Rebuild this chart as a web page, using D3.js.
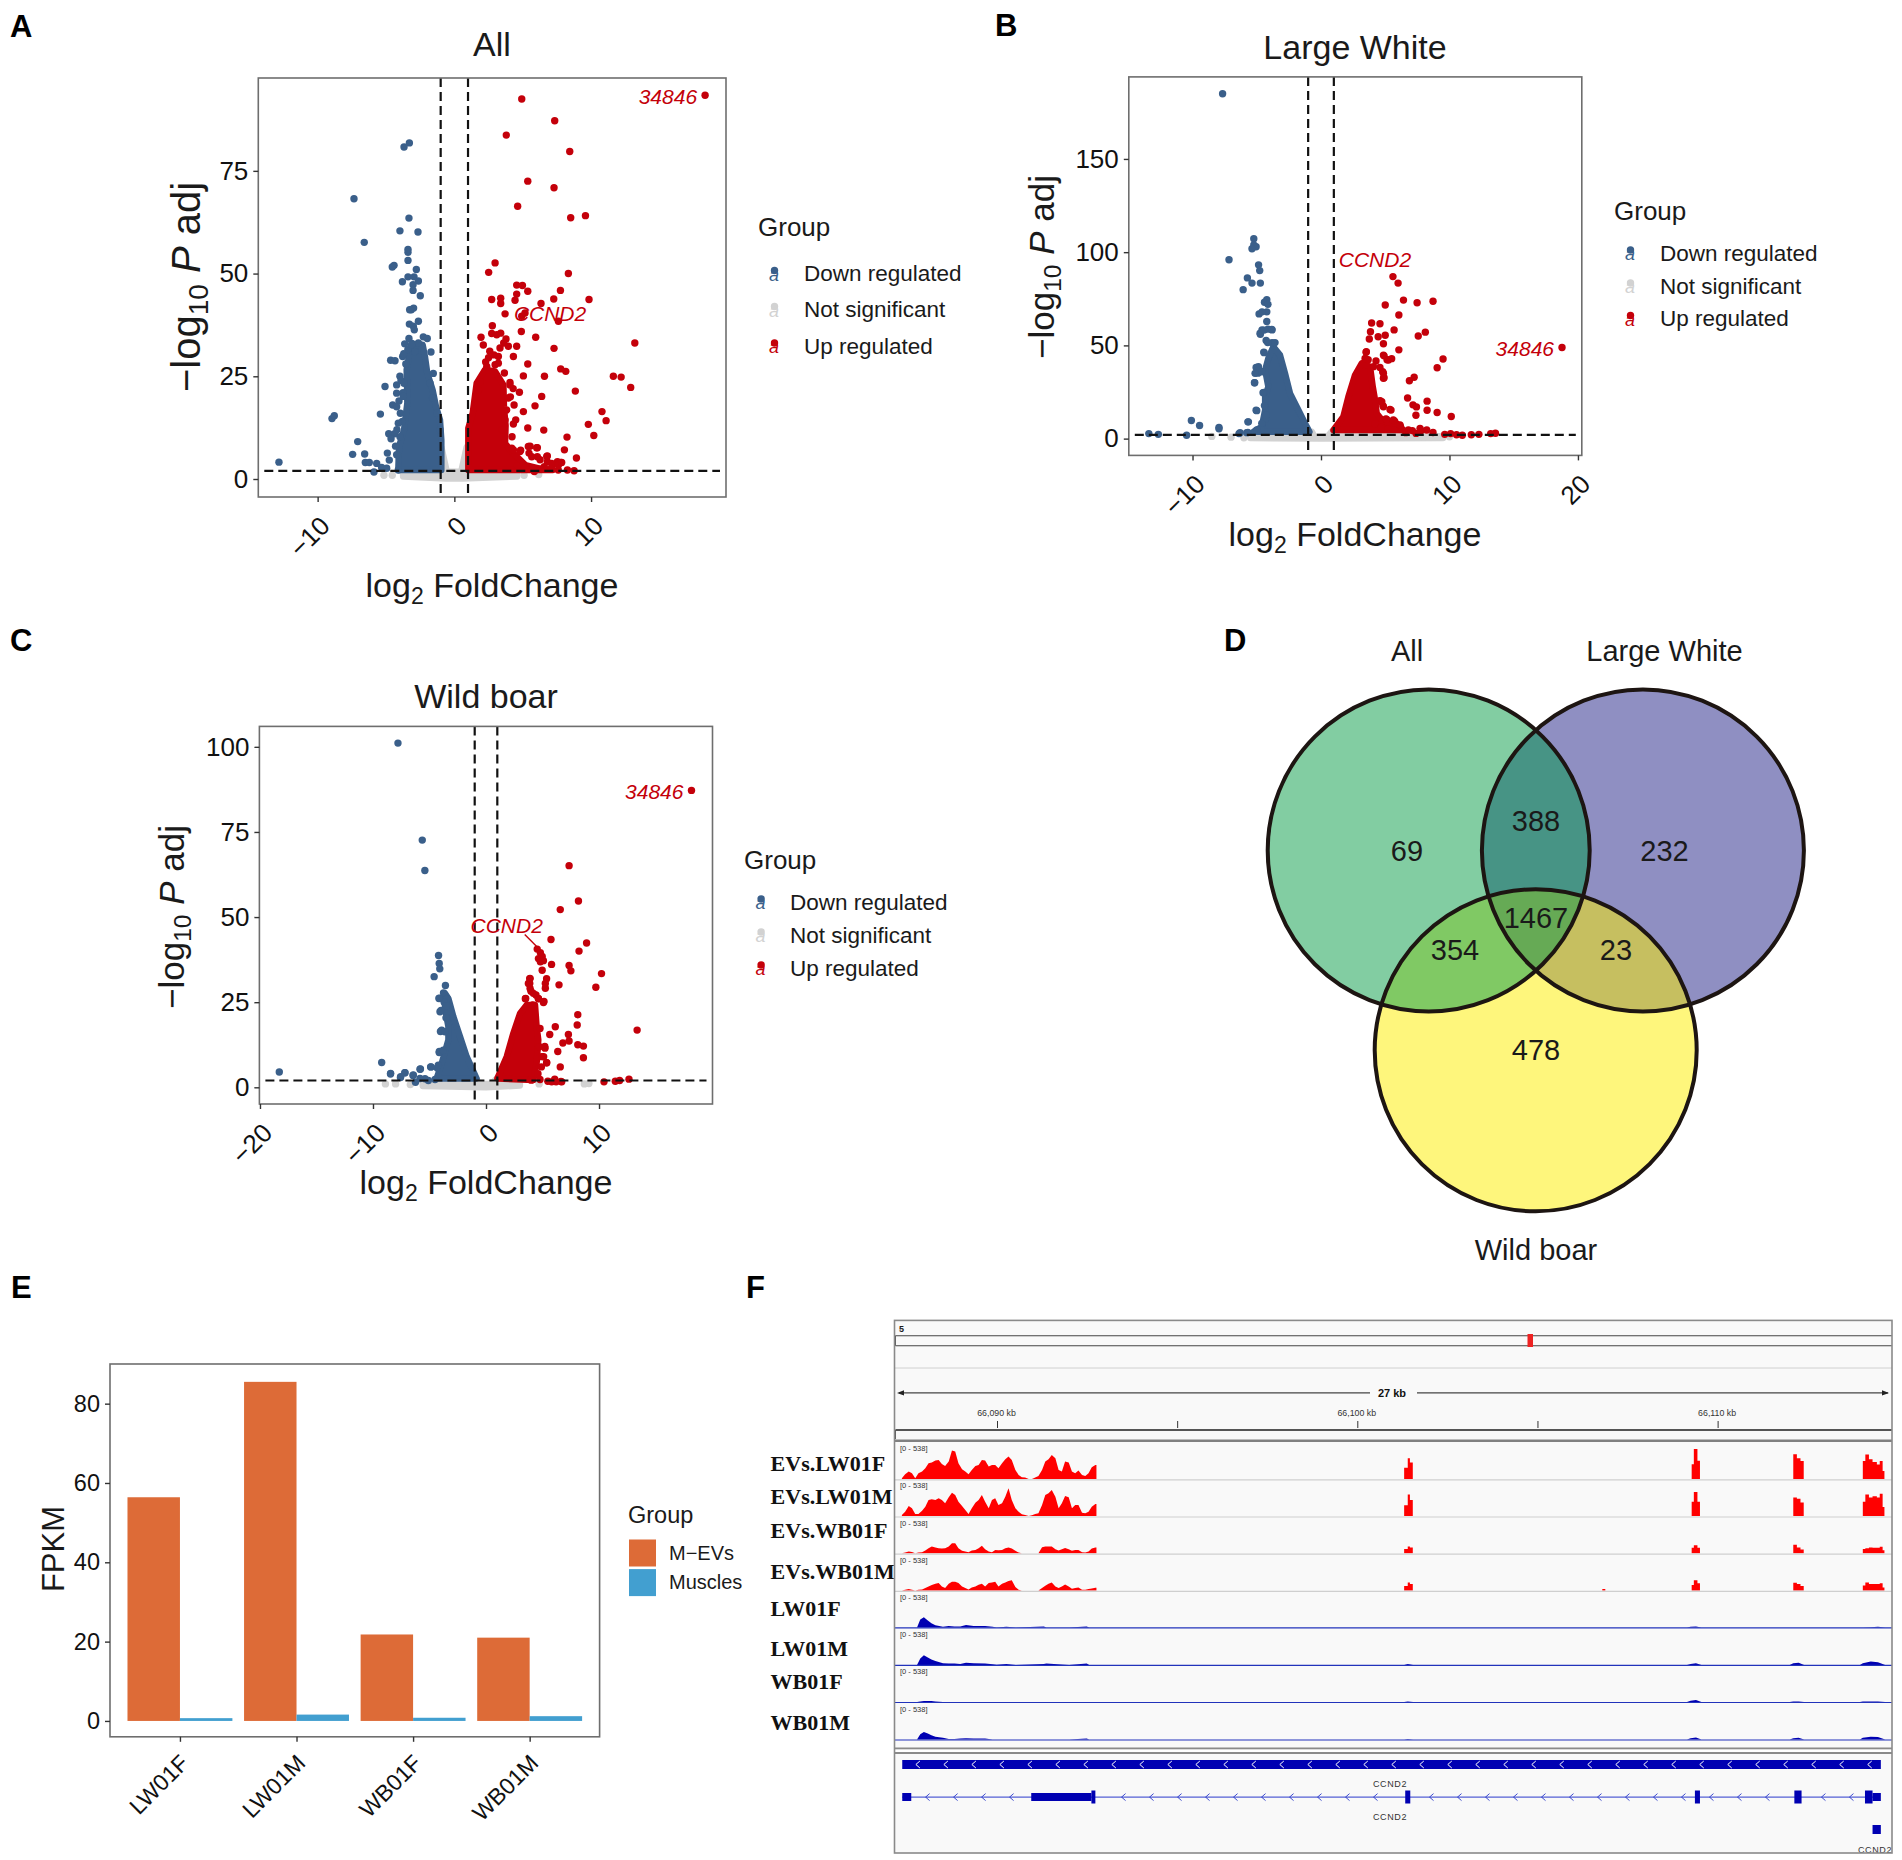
<!DOCTYPE html>
<html><head><meta charset="utf-8">
<script src="https://cdn.jsdelivr.net/npm/d3@7/dist/d3.min.js"></script>
<style>body{margin:0;background:#fff}svg{display:block}text{font-family:"Liberation Sans",Arial,sans-serif;fill:#1a1a1a}</style>
</head><body><svg id="c" width="1902" height="1860"></svg>
<script>
// ---------- Panel A (All) ----------
const allDown=[[-12.83,4.1],[-8.95,14.7],[-8.78,15.4],[-7.34,68.2],[-6.59,57.6],[-3.29,81.8],[-3.68,80.8],[-3.32,63.5],[-3.98,60.4],[-2.66,60.1],[-3.39,55.9],[-3.39,55.2],[-3.39,53.2],[-4.41,52],[-4.54,51.6],[-2.78,51],[-3.39,49.2],[-2.95,49.2],[-2.63,48.2],[-3.8,48],[-3.02,47.3],[-3.02,45.9],[-2.49,44.6],[-3.15,41.2],[-2.98,41.6],[-3.27,41.2],[-2.63,38.4],[-3.29,37.7],[-3,37.2],[-2.93,36.3],[-3.32,34.2],[-2.27,34.6],[-1.98,34.2],[-3.63,32.9],[-1.71,30.9],[-4.66,28.9],[-4.34,28.8],[-3.78,29.8],[-1.54,25.7],[-3.98,25],[-5.07,22.5],[-4.22,22.9],[-4.22,20.9],[-4.51,18],[-5.41,15.8],[-4.8,11],[-4.37,11],[-4.63,9.8],[-7.07,9.1],[-7.44,6],[-6.56,6.1],[-6.51,4],[-6.22,4],[-5.68,3.8],[-4.9,6.3],[-4.76,4.6],[-5.88,1.7],[-5.32,2.8],[-4.95,2.6],[-4.22,5.9],[-4.1,2.2],[-3.7,30.5],[-3.55,28],[-3.9,24],[-3.75,21],[-4.05,19],[-3.95,16],[-3.8,14],[-4.2,12],[-4.3,8],[-2.9,31],[-3.4,31.5],[-3.1,33],[-4.22,17.6],[-4.1,13.6],[-3.98,10.3],[-3.73,20.1],[-3.68,23.3],[-1.78,23.3],[-1.59,19.7],[-1.29,16],[-1.05,12],[-2.63,33.1],[-3.12,32.7]];
const allUp=[[18.34,93.4],[4.93,92.5],[7.34,87.2],[3.8,83.7],[8.44,79.7],[5.37,72.5],[7.29,70.9],[4.63,66.4],[8.51,63.6],[9.59,64.1],[2.98,52.6],[2.51,50.3],[8.34,50],[4.56,47.2],[4.98,47.1],[5.37,45.7],[7.76,45.9],[4.56,45],[4.44,43.5],[2.73,43.7],[3.39,44],[3.39,42.7],[6.34,42.7],[7.27,43.8],[9.85,43.7],[3.71,40.2],[4.93,39.6],[5.17,40.4],[7.61,38.4],[2.78,37.3],[2.73,35.4],[3.1,35.1],[3.39,35.5],[4.9,35.9],[5.95,34.5],[1.95,34.5],[3.78,34.1],[7.29,31.8],[13.2,33.1],[2.12,32.6],[3.61,33.1],[4.56,32.3],[2.59,31.1],[3.34,31.9],[3.95,32.3],[3.22,29.8],[4.32,29.8],[2.29,28.5],[3.22,28.2],[5.37,28],[7.78,26.8],[8.15,26.2],[3.66,25.8],[5.05,25.1],[6.59,25],[11.63,25],[12.2,24.8],[12.9,22.3],[4.07,23.5],[8.85,21.4],[4.76,21.1],[6.39,20.1],[4.37,18],[5.9,17.8],[5.05,16.4],[10.8,16.4],[11.1,14.2],[9.8,13.3],[4.49,14.4],[5.37,12.4],[6.54,11.9],[10.2,10.6],[8.24,10.2],[4.22,10.3],[5.54,8],[6.07,7.6],[8.05,7.1],[4.2,7.5],[4.85,7],[5.46,6.3],[6.07,5.4],[6.8,5.6],[7.54,4.2],[8.93,5.1],[6.8,4.2],[7.17,3.4],[7.78,4],[8.27,2.2],[8.76,2],[5.85,1.8],[6.58,3],[4.1,20],[4.3,22],[2.5,29.5],[2.9,30.2],[7.1,2.6],[7.6,2.2],[6.3,2.4],[5.2,2.8],[4.6,3.2],[4.32,7.1],[4.8,6.7],[5.41,7.9],[5.66,5.4],[6.02,7.6],[6.27,4.7],[6.76,5.5],[7.12,3.8],[7.61,3.4],[7.85,4],[1.88,23.7],[1.76,21.7],[4.07,22.9],[3.95,19.7],[3.83,16.8],[3.71,14.4],[3.51,12],[4.32,13.4],[2.37,27.4],[2.98,27.8]];
const allDownMass=[[-4.1,2.2],[-4.05,7.9],[-3.68,12],[-3.44,18.5],[-3.49,26.6],[-3.2,32.3],[-2.32,32.7],[-2.15,29.8],[-1.98,25.8],[-1.59,21.7],[-1.34,17.6],[-1.05,14.4],[-0.95,9.5],[-0.95,2.2]];
const allUpMass=[[1.02,2.2],[1.02,12.4],[1.34,16],[1.63,23.3],[2.24,26.6],[2.98,26.2],[3.59,22.9],[3.63,17.6],[3.75,13],[3.71,8.7],[4.1,7],[5.2,3.4],[6.4,2.4],[7.2,2.2]];
const allGreyMass=[[-3.75,1.5],[-1.05,1.5],[-0.95,7.8],[-0.55,1.8],[0.5,1.8],[0.9,7.8],[1,1.5],[4.6,1.5],[4.6,0.6],[0.6,0.1],[-0.6,0.1],[-3.75,0.6]];
const allGrey=[[-5.15,0.9],[-4.54,0.9],[5.1,0.9],[6.17,1.1]];
// ---------- Panel B (Large White) ----------
const lwDown=[[-7.66,185],[-13.4,2.7],[-12.66,2.3],[-10.46,1.8],[-10.09,9.7],[-9.45,7],[-7.94,6],[-7.94,5.3],[-7.16,95.9],[-5.23,107.2],[-5.23,103.9],[-5.05,102.9],[-5.37,101.8],[-4.86,93.2],[-4.77,90.1],[-5.73,86.2],[-5.37,83.4],[-4.72,83.4],[-6.06,79.9],[-4.22,74.5],[-4.4,73.1],[-4.13,72],[-4.22,68],[-4.82,66.9],[-4.59,68],[-4.22,62.8],[-4.13,58.7],[-4.59,58.3],[-3.81,58.3],[-4.72,56],[-4.27,52.6],[-3.81,51.5],[-4.45,46.4],[-4.72,36.1],[-4.91,35.1],[-5.05,38.2],[-5.18,30],[-4.45,24.8],[-5.05,15.2],[-5.69,9],[-4.31,10.5],[-6.38,2.7],[-5.69,3.3],[-4.4,17.7],[-4.87,38.6],[-5.13,35],[-4.61,35.9],[-5.16,30],[-4.51,24.6],[-5,15],[-5.65,9],[-4.43,46.1],[-4.15,51.5],[-3.58,51.5],[-4.74,56.5],[-4.43,58.2],[-3.83,58.6],[-4.28,12.6],[-4.61,8.2],[-5,4.6],[-6.3,3.2],[-5.78,3.2]];
const lwUp=[[18.76,48.9],[5.6,86.9],[6,83.4],[6.42,74.3],[7.48,72.9],[8.72,73.7],[5,71.7],[6.06,66.3],[3.94,62],[4.59,61.6],[3.85,57.3],[5.69,58.3],[8.12,57.1],[7.57,55],[3.76,53.4],[4.45,54.6],[5,55.4],[4.86,50.9],[6.06,47.6],[3.53,46.6],[9.5,42.7],[4.91,44.4],[5.5,42.9],[5.14,42.3],[3.67,42.3],[9.04,38],[4.59,38.2],[7.25,32.9],[6.88,31],[4.86,35.1],[4.86,32.4],[6.74,21.8],[7.16,18.1],[7.43,17],[8.26,20.1],[8.26,15.2],[9.04,14],[7.39,12.5],[10.14,11.9],[4.59,20.1],[4.82,17.7],[5.37,15.6],[5.05,10.5],[5.73,9.4],[6.19,6.4],[7.11,4.3],[7.8,4.3],[8.72,3.3],[10.09,2.7],[11,1.8],[12.29,2.3],[13.21,2.7],[13.58,2.9],[11.7,2.1],[9.63,2.3],[10.55,2.1],[4.2,8],[4.7,6],[5.2,5],[6.6,3.2],[7.4,2.8],[3.51,46.3],[3.43,43],[4.08,38.6],[4.28,41.6],[4.86,44.8],[5.25,42.2],[4.8,35.9],[4.91,32.7],[4.6,20.3],[4.86,17.1],[4.73,19.8],[5.45,15.3],[5.11,10.3],[5.63,10],[6.15,7.3],[7.71,5.5],[6.8,4.6],[8.23,4.6]];
const lwDownMass=[[-5.26,3.7],[-4.61,6.4],[-4.35,15.3],[-4.35,22.5],[-4.1,27.9],[-4.35,36.8],[-4.1,43.1],[-3.71,49.3],[-3.19,44.8],[-2.8,35],[-2.41,24.3],[-1.89,17.1],[-1.24,8.2],[-0.9,3.7]];
const lwUpMass=[[0.96,4.6],[1.74,11.8],[2.13,22.5],[2.65,34.1],[3.17,40.4],[3.82,38.6],[4.03,27.9],[4.21,20.7],[4.34,13.5],[4.86,9.1],[5.89,8.2],[6.41,4.6]];
const lwGreyMass=[[-5.5,1.8],[-1.2,1.8],[-0.7,3.6],[-0.5,1],[0.5,1],[0.8,3.6],[1.2,1.8],[9.5,1],[9.5,0.3],[0,0],[-5.5,0.3]];
const lwGrey=[[-8.5,1.2],[-7,0.8],[-6,0.5],[8,1],[9.2,1],[10,1]];
// ---------- Panel C (Wild boar) ----------
const wbDown=[[-7.79,101.1],[-5.64,72.6],[-5.41,63.7],[-18.29,4.5],[-9.23,7.3],[-8.45,3.9],[-7.57,2.9],[-7.18,4.3],[-6.46,3.5],[-5.8,5.4],[-4.86,6],[-6.24,1.5],[-4.2,38.7],[-4.14,36.4],[-4.09,34.8],[-4.59,32.5],[-3.59,29.9],[-3.76,27.7],[-4.14,26.2],[-3.43,26],[-3.98,22.6],[-3.54,20.4],[-4.03,16.4],[-4.14,10.2],[-4.31,5.7],[-5.4,2.5],[-5.1,2],[-3.7,25],[-3.5,24],[-4.16,26.1],[-4.07,22.2],[-3.92,16.8],[-3.63,16.3],[-4.13,10.5],[-3.78,10.9],[-4.9,6],[-4.22,6.5],[-5.84,5.3],[-6.43,3.6],[-7.17,4.3],[-7.55,3.1],[-8.44,4.1],[-5.84,2.6],[-4.51,2.3]];
const wbUp=[[18.18,87.2],[7.35,65.1],[8.18,54.7],[6.57,52.2],[8.9,42.4],[5.75,43.4],[8.23,40],[4.53,40.6],[4.81,39.5],[4.97,38.4],[4.64,37.8],[5.08,37.2],[5.8,36.1],[4.81,36.9],[7.35,35.8],[7.51,34.2],[10.22,33.4],[4.97,34.4],[3.87,31.9],[5.36,31.9],[3.87,30.5],[5.25,30.5],[6.46,30.1],[9.72,29.4],[5.25,29.1],[3.98,28.2],[4.42,27.1],[4.64,26],[3.48,26],[5.08,24.9],[8.12,21.3],[6.13,17.8],[8.07,18.3],[13.37,16.8],[5.64,15.5],[7.29,15.5],[6.8,13],[7.35,13.6],[8.12,12.5],[8.62,12.1],[6.35,10.5],[8.62,8.7],[5.36,7.2],[6.57,6],[3.98,2.4],[5.47,1.8],[6.08,1.8],[6.08,2.4],[6.63,1.7],[10.44,1.6],[11.44,1.8],[11.82,2],[12.65,2.4],[5.2,12],[5.1,9],[4.9,6],[4.6,4],[4.78,17.3],[4.72,11.9],[5.22,11.5],[4.93,9],[5.37,7.2],[4,2.1],[4.78,2.3],[5.81,1.6],[6.2,1.6],[6.7,1.6],[5.13,25.2],[4.63,26.1],[4.19,27.6],[3.9,29],[3.51,26.1],[3.75,30.5],[3.9,32],[4.13,24.2]];
const wbDownMass=[[-4.37,2.6],[-3.92,7],[-3.33,13.9],[-3.33,17.8],[-3.63,23.2],[-3.63,27.6],[-3.33,26.1],[-2.89,20.8],[-2.3,14.9],[-1.71,9],[-0.83,2.6]];
const wbUpMass=[[1,2.6],[1.83,9],[2.42,15.9],[3.01,21.7],[3.6,24.2],[4.34,24.2],[4.48,17.8],[4.63,13.9],[4.48,7],[4.19,2.1]];
const wbGreyMass=[[-5.6,1.5],[-1.2,1.5],[-1,2.5],[-0.5,1],[0.5,1],[1,2.8],[1.2,1.5],[3,1.5],[3,0.5],[0,0],[-5.6,0.4]];
const wbGrey=[[-8.9,1],[-8,1],[-6.7,0.8],[4.7,1],[8.7,1],[9.1,1.1]];
const legendGroups=["Down regulated","Not significant","Up regulated"];
// ---------- Panel D (Venn) ----------
const vennSets=["All","Large White","Wild boar"];
const vennCounts={onlyAll:69,allLw:388,onlyLw:232,allLwWb:1467,allWb:354,lwWb:23,onlyWb:478};
// ---------- Panel E (bars) ----------
const barSamples=["LW01F","LW01M","WB01F","WB01M"];
const barGroups=["M−EVs","Muscles"];
const mEvsFpkm=[56.4,85.5,21.8,21.0];
const musclesFpkm=[0.7,1.6,0.8,1.2];
// ---------- Panel F (genome tracks) ----------
const trackNames=["EVs.LW01F","EVs.LW01M","EVs.WB01F","EVs.WB01M","LW01F","LW01M","WB01F","WB01M"];
const geneKb=[66087.36,66087.45,66087.55,66087.64,66087.73,66087.82,66087.92,66088.01,66088.10,66088.19,66088.29,66088.38,66088.47,66088.56,66088.66,66088.75,66088.84,66088.93,66089.03,66089.12,66089.21,66089.30,66089.40,66089.49,66089.58,66089.67,66089.77,66089.86,66089.95,66090.04,66090.14,66090.23,66090.32,66090.41,66090.51,66090.60,66090.69,66090.78,66090.88,66090.97,66091.06,66091.15,66091.25,66091.34,66091.43,66091.52,66091.62,66091.71,66091.80,66091.89,66091.99,66092.08,66092.17,66092.26,66092.36,66092.45,66092.54,66092.63,66092.73,66092.76];
const evsLW01Fcov=[10,67,106,82,10,82,106,154,227,236,265,275,217,188,251,410,395,227,140,106,67,130,188,202,275,265,178,202,202,154,227,284,323,275,130,58,24,19,0,0,19,43,130,251,284,347,299,130,106,251,236,106,82,120,58,43,82,169,202,202];
const evsLW01Mcov=[14,63,145,111,29,29,77,135,231,241,231,255,231,183,270,337,304,207,145,87,29,111,193,231,304,207,111,231,255,159,183,280,400,231,111,63,24,14,0,10,29,39,159,304,328,376,280,111,183,289,270,111,159,159,48,39,63,135,174,174];
const evsWB01Fcov=[0,10,24,19,0,10,14,39,72,96,82,72,67,72,96,145,145,72,34,24,14,39,48,72,106,58,24,14,48,43,48,72,82,67,34,10,0,0,0,0,0,0,87,96,96,96,58,39,58,77,58,34,48,48,14,10,24,67,82,82];
const evsWB01Mcov=[0,10,19,10,0,10,14,34,58,77,96,106,58,34,96,125,125,106,58,34,14,43,58,82,96,58,106,116,125,58,96,116,135,145,48,10,0,0,0,0,0,0,34,67,96,116,58,34,58,87,58,24,34,43,10,10,19,29,39,39];
const exonKb=[[66101.30,66101.40,66101.46,66101.54],[66109.28,66109.34,66109.44,66109.51],[66112.10,66112.20,66112.30,66112.39],[66114.03,66114.10,66114.20,66114.30,66114.42,66114.50,66114.58,66114.63]];
const evsLW01Fexon=[[160,300,238,0],[212,434,264,0],[357,300,258,0],[258,352,284,243,207,258,114,0]];
const evsLW01Mexon=[[155,310,233,0],[207,346,207,0],[269,248,196,0],[207,310,269,284,269,321,129,0]];
const evsWB01Fexon=[[62,98,82,0],[78,114,78,0],[124,83,52,0],[62,72,83,78,78,93,41,0]];
const evsWB01Mexon=[[62,114,93,0],[78,145,103,0],[109,93,62,0],[72,114,93,93,93,103,41,0]];
const muscleKb=[66087.78,66087.87,66087.97,66088.08,66088.18,66088.29,66088.5,66088.66,66088.82,66088.98,66089.14,66089.35,66089.67,66089.88,66089.99,66090.26,66090.52,66091.3,66091.37,66092,66092.49,66092.56,66101.3,66101.4,66101.55,66109.15,66109.25,66109.4,66109.55,66112,66112.1,66112.25,66112.4,66113.95,66114.03,66114.25,66114.45,66114.65];
const lw01Fcov=[0,114,150,103,62,31,10,21,16,16,36,21,21,10,0,10,0,16,0,0,16,0,0,0,0,0,10,16,0,0,0,0,0,0,0,5,10,0];
const lw01Mcov=[0,93,140,109,78,57,26,21,21,16,31,26,21,10,5,16,0,16,21,0,21,0,0,16,0,0,16,26,0,0,26,31,0,0,26,52,41,0];
const wb01Fcov=[0,10,16,16,16,10,0,0,0,0,0,0,0,0,0,0,0,0,0,0,0,0,0,10,0,0,21,31,0,0,10,10,0,0,10,10,10,0];
const wb01Mcov=[0,78,109,88,62,41,26,10,10,16,21,16,16,0,0,0,0,0,0,0,16,0,0,10,0,0,21,31,0,0,21,26,0,0,26,41,36,0];
const geneUtr=[[66087.37,66087.62],[66090.95,66092.62],[66114.30,66114.53]];
const geneCds=[[66092.62,66092.73],[66101.33,66101.47],[66109.37,66109.51],[66112.13,66112.33],[66114.09,66114.30]];
const kbLabelled=[66090,66100,66110];
const kbPlain=[66095,66105];

const svg=d3.select("#c");
const BLUE="#3a5f8a",GREY="#d2d2d2",RED="#c4000a",FRAME="#6e6e6e";

function letter(t,x,y){svg.append("text").attr("x",x).attr("y",y).attr("font-size",31).attr("font-weight","bold").style("fill","#000").text(t);}
[["A",10,37],["B",995,36],["C",10,651],["D",1224,651],["E",11,1298],["F",746,1298]].forEach(d=>letter(...d));

function frame(g,b){g.append("rect").attr("x",b.l).attr("y",b.t).attr("width",b.r-b.l).attr("height",b.b-b.t).attr("fill","none").attr("stroke",FRAME).attr("stroke-width",1.6);}

function styleAxis(sel,fs){sel.select(".domain").remove();sel.selectAll("line").attr("stroke","#333").attr("stroke-width",1.4);sel.selectAll("text").attr("font-size",fs).style("fill","#111");}

function rotated(sel,dx,dy){sel.selectAll("text").attr("x",0).attr("y",0).attr("dy",".35em").attr("text-anchor","end").attr("transform",`translate(${dx},${dy}) rotate(-45)`);}

function volcano(o){
  const g=svg.append("g"),b=o.box;
  const x=d3.scaleLinear(o.xd,[b.l,b.r]),y=d3.scaleLinear(o.yd,[b.b,b.t]);
  const mass=d3.line().x(d=>x(d[0])).y(d=>y(d[1])).curve(d3.curveLinearClosed);
  const drawMass=(m,c)=>g.append("path").attr("d",mass(m)).attr("fill",c).attr("stroke",c).attr("stroke-width",6.4).attr("stroke-linejoin","round");
  const drawPts=(p,c)=>g.selectAll(null).data(p).join("circle").attr("cx",d=>x(d[0])).attr("cy",d=>y(d[1])).attr("r",3.7).attr("fill",c);
  drawMass(o.greyMass,GREY);drawPts(o.grey,GREY);
  drawMass(o.downMass,BLUE);drawPts(o.down,BLUE);
  drawMass(o.upMass,RED);drawPts(o.up,RED);
  [-1,1].forEach(v=>g.append("line").attr("x1",x(v)).attr("x2",x(v)).attr("y1",b.t).attr("y2",b.b).attr("stroke","#111").attr("stroke-width",2.2).attr("stroke-dasharray","9 5"));
  g.append("line").attr("x1",b.l+6).attr("x2",b.r-6).attr("y1",y(2)).attr("y2",y(2)).attr("stroke","#111").attr("stroke-width",2.2).attr("stroke-dasharray","9 5");
  frame(g,b);
  const ax=g.append("g").attr("transform",`translate(0,${b.b})`).call(d3.axisBottom(x).tickValues(o.xt).tickSize(5).tickFormat(d=>d<0?"−"+(-d):d));
  styleAxis(ax,26);rotated(ax,7,24);
  const ay=g.append("g").attr("transform",`translate(${b.l},0)`).call(d3.axisLeft(y).tickValues(o.yt).tickSize(5).tickPadding(5));
  styleAxis(ay,26);
  g.append("text").attr("x",o.title[1]).attr("y",o.title[2]).attr("text-anchor","middle").attr("font-size",34).attr("dominant-baseline","central").text(o.title[0]);
  const xl=g.append("text").attr("x",o.xl[0]).attr("y",o.xl[1]).attr("text-anchor","middle").attr("font-size",34);
  xl.append("tspan").text("log");xl.append("tspan").attr("font-size",23).attr("dy",7).text("2");xl.append("tspan").attr("dy",-7).text(" FoldChange");
  const yl=g.append("text").attr("transform",`translate(${o.yl[0]},${o.yl[1]}) rotate(-90)`).attr("text-anchor","middle").attr("font-size",o.yl[2]);
  yl.append("tspan").text("−log");yl.append("tspan").attr("font-size",o.yl[2]*.7).attr("dy",o.yl[2]*.2).text("10");yl.append("tspan").attr("dy",-o.yl[2]*.2).text(" ");yl.append("tspan").attr("font-style","italic").text("P");yl.append("tspan").text(" adj");
  const lab=(t,dx,dy,anc)=>g.append("text").attr("x",dx).attr("y",dy).attr("text-anchor",anc).attr("font-size",21).attr("font-style","italic").style("fill",RED).text(t);
  lab("34846",x(o.l1[0])-8,y(o.l1[1])+8.5,"end");
  lab("CCND2",x(o.l2[0]),y(o.l2[1]),"middle");
  if(o.leader)g.append("line").attr("x1",x(o.leader[0])).attr("y1",y(o.leader[1])).attr("x2",x(o.leader[2])).attr("y2",y(o.leader[3])).attr("stroke",RED).attr("stroke-width",1.4);
  const L=o.legend;
  g.append("text").attr("x",L.x).attr("y",L.gy).attr("font-size",26).attr("dominant-baseline","central").text("Group");
  legendGroups.forEach((t,i)=>{
    const c=[BLUE,GREY,RED][i],yy=L.ys[i];
    g.append("circle").attr("cx",L.kx+.5).attr("cy",yy-3).attr("r",3.7).attr("fill",c);
    g.append("text").attr("x",L.kx).attr("y",yy+7).attr("text-anchor","middle").attr("font-size",18).attr("font-style","italic").style("fill",c).text("a");
    g.append("text").attr("x",L.tx).attr("y",yy).attr("font-size",22.5).attr("dominant-baseline","central").text(t);
  });
}
volcano({box:{l:258.3,r:726,t:78,b:497},xd:[-14.34,19.87],yd:[-4.38,97.6],xt:[-10,0,10],yt:[0,25,50,75],down:allDown,up:allUp,downMass:allDownMass,upMass:allUpMass,greyMass:allGreyMass,grey:allGrey,title:["All",492,44],xl:[492,597],yl:[200,287,40],l1:[18.34,93.4],l2:[7,38.5],legend:{x:758,gy:227,kx:774,tx:804,ys:[273.5,309.5,346]}});
volcano({box:{l:1128.8,r:1581.8,t:76.9,b:455.4},xd:[-14.96,20.3],yd:[-9,194],xt:[-10,0,10,20],yt:[0,50,100,150],down:lwDown,up:lwUp,downMass:lwDownMass,upMass:lwUpMass,greyMass:lwGreyMass,grey:lwGrey,title:["Large White",1355,47],xl:[1355,546],yl:[1053.5,267,35],l1:[18.76,48.9],l2:[4.2,92],legend:{x:1614,gy:211,kx:1630,tx:1660,ys:[253,286,318.5]}});
volcano({box:{l:259.4,r:712.5,t:726.4,b:1104},xd:[-20.05,20.04],yd:[-4.9,106],xt:[-20,-10,0,10],yt:[0,25,50,75,100],down:wbDown,up:wbUp,downMass:wbDownMass,upMass:wbUpMass,greyMass:wbGreyMass,grey:wbGrey,title:["Wild boar",486,696],xl:[486,1194],yl:[184,917,35],l1:[18.18,87.2],l2:[1.83,45.3],leader:[3.43,44.9,4.53,41.2],legend:{x:744,gy:860,kx:760.6,tx:790,ys:[902,935,968]}});

// ---------- Venn ----------
(function(){
  const R=161,cA=[1428.7,850.4],cB=[1642.9,850.4],cC=[1535.7,1050.3];
  const g=svg.append("g"),defs=svg.append("defs");
  [["clipA",cA],["clipB",cB],["clipC",cC]].forEach(([id,c])=>defs.append("clipPath").attr("id",id).append("circle").attr("cx",c[0]).attr("cy",c[1]).attr("r",R));
  defs.append("clipPath").attr("id","clipAB").attr("clip-path","url(#clipA)").append("circle").attr("cx",cB[0]).attr("cy",cB[1]).attr("r",R);
  const circ=(c,f,clip)=>{const e=g.append("circle").attr("cx",c[0]).attr("cy",c[1]).attr("r",R).attr("fill",f);if(clip)e.attr("clip-path",`url(#${clip})`);return e;};
  circ(cA,"#82cda2");circ(cB,"#8f8fc2");circ(cC,"#fef67c");
  circ(cB,"#479485","clipA");
  circ(cC,"#80c964","clipA");
  circ(cC,"#c6bf60","clipB");
  circ(cC,"#66aa55","clipAB");
  [cA,cB,cC].forEach(c=>g.append("circle").attr("cx",c[0]).attr("cy",c[1]).attr("r",R).attr("fill","none").attr("stroke","#1d1512").attr("stroke-width",4));
  const t=(s,x,y)=>g.append("text").attr("x",x).attr("y",y).attr("text-anchor","middle").attr("dominant-baseline","central").attr("font-size",29).text(s);
  t(vennSets[0],1407,650.6);t(vennSets[1],1664.5,650.6);t(vennSets[2],1536,1249.5);
  t(vennCounts.onlyAll,1407,850.5);t(vennCounts.allLw,1536,821);t(vennCounts.onlyLw,1664.5,850.5);t(vennCounts.allLwWb,1536,918);t(vennCounts.allWb,1455,950);t(vennCounts.lwWb,1616,950);t(vennCounts.onlyWb,1536,1049.5);
})();

// ---------- Bars ----------
(function(){
  const g=svg.append("g"),b={l:110,r:599.6,t:1364,b:1736.8};
  const x=d3.scalePoint(barSamples,[b.l,b.r]).padding(.6),y=d3.scaleLinear([-4.0,90.0],[b.b,b.t]);
  const w=x.step()*.45,cols=["#DD6B37","#429FD0"];
  [mEvsFpkm,musclesFpkm].forEach((vals,k)=>g.selectAll(null).data(vals).join("rect").attr("x",(d,i)=>x(barSamples[i])+(k-1)*w).attr("width",w).attr("y",d=>y(d)).attr("height",d=>y(0)-y(d)).attr("fill",cols[k]));
  frame(g,b);
  const ax=g.append("g").attr("transform",`translate(0,${b.b})`).call(d3.axisBottom(x).tickSize(5));
  styleAxis(ax,23);rotated(ax,4,22);
  const ay=g.append("g").attr("transform",`translate(${b.l},0)`).call(d3.axisLeft(y).tickValues([0,20,40,60,80]).tickSize(5).tickPadding(5));
  styleAxis(ay,23.5);
  g.append("text").attr("transform","translate(53,1549) rotate(-90)").attr("text-anchor","middle").attr("dominant-baseline","central").attr("font-size",31).text("FPKM");
  g.append("text").attr("x",628).attr("y",1515.4).attr("font-size",23.5).attr("dominant-baseline","central").text("Group");
  barGroups.forEach((t,i)=>{
    g.append("rect").attr("x",629).attr("y",1539.5+i*29.6).attr("width",27).attr("height",27).attr("fill",cols[i]);
    g.append("text").attr("x",669).attr("y",1552.5+i*29.1).attr("font-size",20).attr("dominant-baseline","central").text(t);
  });
})();

// ---------- IGV tracks ----------
(function(){
  const g=svg.append("g"),L=894.5,Rt=1892,T=1320.4,B=1853;
  const x=d3.scaleLinear([66087.18,66114.84],[895.4,Rt]);
  const NAVY="#0000b2",RD="#ff0000";
  g.append("rect").attr("x",L).attr("y",T).attr("width",Rt-L).attr("height",B-T).attr("fill","#f9f9f9");
  const hl=(y,c,w,a=L,e=Rt)=>g.append("line").attr("x1",a).attr("x2",e).attr("y1",y).attr("y2",y).attr("stroke",c).attr("stroke-width",w);
  hl(1335.7,"#444",1.1,895.4);hl(1345.7,"#444",1.1,895.4);hl(1368,"#d0d0d0",1);hl(1430,"#555",1.8,895.4);hl(1440.7,"#808080",2.6);
  g.append("line").attr("x1",895.4).attr("x2",895.4).attr("y1",1335.7).attr("y2",1345.7).attr("stroke","#444");
  g.append("line").attr("x1",895.4).attr("x2",895.4).attr("y1",1430).attr("y2",1439).attr("stroke","#444");
  g.append("rect").attr("x",1527.5).attr("y",1334).attr("width",5.5).attr("height",13).attr("fill","#ee2222");
  g.append("text").attr("x",899).attr("y",1332).attr("font-size",9).attr("font-weight","bold").text("5");
  hl(1392.9,"#444",1.2,899,1370);hl(1392.9,"#444",1.2,1417,1888);
  g.append("path").attr("d","M897 1392.9l7 -2.6v5.2z M1889 1392.9l-7 -2.6v5.2z").attr("fill","#222");
  g.append("text").attr("x",1392).attr("y",1392.5).attr("text-anchor","middle").attr("dominant-baseline","central").attr("font-size",11).attr("font-weight","bold").style("fill","#111").text("27 kb");
  const ax=g.append("g").attr("transform","translate(0,1428)").call(d3.axisTop(x).tickValues(kbLabelled.concat(kbPlain)).tickSize(7).tickPadding(5).tickFormat(d=>kbLabelled.includes(d)?d3.format(",")(d)+" kb":""));
  ax.select(".domain").remove();ax.selectAll("line").attr("stroke","#333");ax.selectAll("text").attr("font-size",8.8).attr("dx",-1).style("fill","#333");
  const bases=[1478.9,1516,1553.2,1590.4,1627.5,1665,1702.1,1739.6],tH=37.2;
  const labY=[1463.5,1496.5,1530.5,1571,1608.5,1648,1681,1722];
  const redCov=[evsLW01Fcov,evsLW01Mcov,evsWB01Fcov,evsWB01Mcov],redExon=[evsLW01Fexon,evsLW01Mexon,evsWB01Fexon,evsWB01Mexon],blueCov=[lw01Fcov,lw01Mcov,wb01Fcov,wb01Mcov];
  trackNames.forEach((n,i)=>{
    const by=bases[i],y=d3.scaleLinear([0,538],[by,by-tH]);
    const area=d3.area().x(d=>x(d[0])).y0(by).y1(d=>y(d[1]));
    if(i<4){
      g.append("path").attr("d",area(d3.zip(geneKb,redCov[i]))).attr("fill",RD);
      exonKb.forEach((ks,j)=>g.append("path").attr("d",area.curve(d3.curveStepAfter)(d3.zip(ks,redExon[i][j]))).attr("fill",RD));
      hl(by+1,"#cfcfcf",1.2);
    }else{
      g.append("path").attr("d",area(d3.zip(muscleKb,blueCov[i-4]))).attr("fill",NAVY);
      hl(by+.4,"#2233bb",1.1);
    }
    g.append("text").attr("x",900).attr("y",by-tH+7).attr("dominant-baseline","central").attr("font-size",7.5).style("fill","#333").text("[0 - 538]");
    g.append("text").attr("x",770.6).attr("y",labY[i]).attr("dominant-baseline","central").attr("font-size",22).attr("font-weight","bold").style("font-family",'"Liberation Serif",serif').style("fill","#111").text(n);
  });
  g.append("rect").attr("x",x(66106.8)).attr("y",1589).attr("width",3).attr("height",1.4).attr("fill",RD);
  hl(1748.6,"#8a8a8a",2);g.append("rect").attr("x",L).attr("y",1749.6).attr("width",Rt-L).attr("height",2.4).attr("fill","#fff");hl(1753,"#8a8a8a",2);
  // gene models
  g.append("rect").attr("x",x(66087.37)).attr("y",1760).attr("width",x(66114.53)-x(66087.37)).attr("height",9).attr("fill",NAVY);
  const chev=(px,y,c,w)=>g.append("path").attr("d",`M${px+2.5} ${y-3.5}L${px-1.5} ${y}L${px+2.5} ${y+3.5}`).attr("fill","none").attr("stroke",c).attr("stroke-width",w);
  d3.range(66087.79,66114.3,.777).forEach(k=>chev(x(k),1764.5,"#fff",1));
  hl(1797.1,"#2a3acb",1,x(66087.37),x(66114.4));
  d3.range(66088.06,66114.0,.777).filter(k=>!geneUtr.concat(geneCds).some(e=>k>e[0]-.08&&k<e[1]+.08)).forEach(k=>chev(x(k),1797.1,"#2a3acb",.9));
  g.selectAll(null).data(geneUtr).join("rect").attr("x",d=>x(d[0])).attr("width",d=>x(d[1])-x(d[0])).attr("y",1793).attr("height",8).attr("fill",NAVY);
  g.selectAll(null).data(geneCds).join("rect").attr("x",d=>x(d[0])).attr("width",d=>x(d[1])-x(d[0])).attr("y",1790.5).attr("height",13).attr("fill",NAVY);
  g.append("rect").attr("x",x(66114.3)).attr("y",1825).attr("width",x(66114.53)-x(66114.3)).attr("height",9).attr("fill",NAVY);
  [[1390,1784],[1390,1817],[1875,1849.5]].forEach(p=>g.append("text").attr("x",p[0]).attr("y",p[1]).attr("text-anchor","middle").attr("dominant-baseline","central").attr("font-size",9).attr("letter-spacing",".6").style("fill","#333").text("CCND2"));
  g.append("rect").attr("x",L).attr("y",T).attr("width",Rt-L).attr("height",B-T).attr("fill","none").attr("stroke","#8a8a8a").attr("stroke-width",1.6);
})();
</script></body></html>
